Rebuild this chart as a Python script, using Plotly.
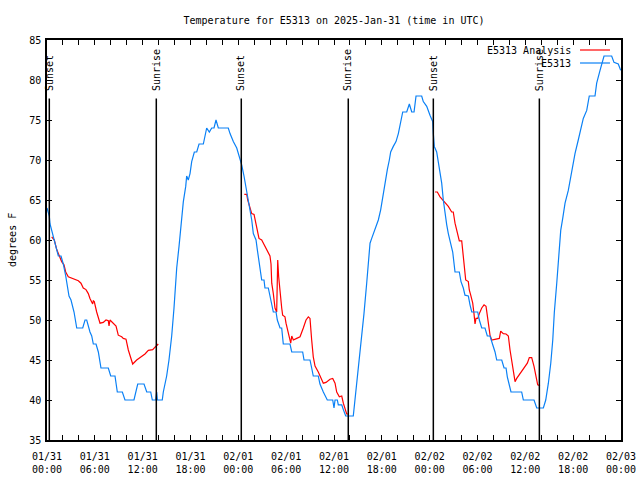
import pandas as pd
import plotly.graph_objects as go

# ---- data (hours since 2025-01-31 00:00 UTC, temperature in F) ----
obs_hours = [0.00, 0.29, 0.38, 0.92, 1.42, 1.76, 2.04, 2.35, 2.76, 3.01, 3.39, 3.73, 4.48, 4.77, 4.98,
             5.39, 5.61, 5.81, 6.15, 6.44, 6.77, 7.69, 7.99, 8.53, 8.82, 9.45, 9.78, 10.91, 11.38, 12.17,
             12.51, 13.01, 13.21, 13.64, 13.76, 13.84, 14.46, 14.59, 15.01, 15.30, 15.64, 15.93, 16.27,
             16.56, 16.68, 16.90, 17.10, 17.40, 17.52, 17.72, 17.94, 18.15, 18.48, 18.78, 19.07, 19.61,
             19.82, 20.03, 20.36, 20.66, 20.95, 21.20, 21.49, 22.74, 22.96, 23.37, 23.80, 24.12, 24.42,
             24.71, 25.05, 25.25, 25.46, 25.68, 25.88, 26.22, 26.38, 26.63, 26.93, 27.22, 27.34, 27.76,
             27.97, 28.19, 28.39, 28.73, 28.89, 29.23, 29.44, 29.64, 30.48, 30.70, 32.07, 32.24, 32.99,
             33.20, 33.40, 34.03, 34.24, 34.66, 35.16, 35.84, 36.00, 36.13, 36.42, 36.54, 36.97, 37.17,
             37.47, 38.42, 38.55, 38.85, 39.17, 39.47, 39.76, 40.10, 40.30, 40.52, 40.73, 40.93, 41.27,
             41.56, 41.86, 42.11, 42.40, 42.69, 42.94, 43.11, 43.44, 43.78, 44.07, 44.28, 44.62, 45.12,
             45.45, 45.75, 46.04, 46.29, 47.00, 47.20, 47.63, 48.04, 48.38, 48.46, 48.58, 48.88, 49.08,
             49.30, 49.51, 49.71, 49.92, 50.14, 50.34, 50.64, 50.89, 51.18, 51.72, 51.93, 52.22, 52.43,
             52.85, 53.06, 53.28, 54.03, 54.23, 54.53, 54.94, 55.23, 55.57, 55.91, 56.20, 56.41, 57.04,
             57.33, 57.58, 57.74, 57.99, 58.20, 59.54, 59.75, 61.09, 61.43, 62.26, 62.56, 62.89, 63.19,
             63.44, 63.64, 63.94, 64.14, 64.26, 64.44, 64.69, 64.98, 65.39, 65.69, 65.94, 66.23, 66.64,
             67.07, 67.27, 67.70, 68.02, 68.74, 68.95, 69.37, 69.58, 69.87, 70.83, 71.12, 71.66, 71.96]
obs_temp = [64, 63, 62, 60, 58, 58, 57, 55.5, 53, 52.5, 51, 49, 49, 50, 50,
            48.5, 48, 47, 47, 46, 44, 44, 43, 43, 41, 41, 40, 40, 42, 42,
            41, 41, 40, 40, 41, 40, 40, 41, 43, 45, 48, 51.5, 56.5,
            59.2, 60.6, 62.5, 64.8, 66.7, 68, 67.5, 68.3, 69.8, 71, 71, 72, 72,
            73, 74, 73.5, 74, 74, 75, 74, 74, 73.3, 72.3, 71.5, 70.4, 69.4,
            68, 66.2, 65, 63.8, 62.5, 60.8, 60, 58.8, 57.1, 55, 55, 54, 54,
            52.9, 52, 51, 51, 50, 49, 49, 47, 47, 46, 46, 45, 45,
            44, 43, 43, 42, 41, 40, 40, 39, 40, 40, 39.4, 39.4, 38.8,
            38, 38, 39.2, 42, 45.2, 47.3, 50.8, 54.6, 57.5, 59.6, 60.2, 60.8, 61.7,
            62.5, 63.8, 65.4, 67.5, 68.8, 70, 71, 71.7, 72.3, 73.3, 74.3, 76, 76,
            77, 76, 76, 78, 78, 77.3, 76.7, 75.6, 74.8, 73.3, 71.7, 71, 69.6,
            68.3, 67.1, 65, 63.3, 61.9, 60.8, 59.6, 58.5, 56, 56, 54.8, 54, 53.1,
            53, 51.9, 51, 51, 50, 49, 49, 48, 48, 46.9, 46, 45, 45,
            44, 44, 42.9, 41.9, 41, 41, 40, 40, 39, 39, 40, 42.1, 44.6,
            47.5, 51, 54.6, 57.5, 59.6, 61.2, 62.7, 64.6, 66.2, 67.9, 69.2, 70.8, 72.5,
            74.2, 75.2, 76.2, 78, 78, 79.6, 81.2, 82.1, 83, 83, 82.2, 82, 81.2]

ana1_hours = [0.59, 0.92, 1.22, 1.54, 1.84, 2.13, 2.35, 2.67, 3.30, 3.93, 4.26, 4.55, 4.89, 5.18, 5.39,
              5.61, 5.73, 5.81, 5.93, 6.23, 6.65, 7.06, 7.40, 7.69, 7.78, 7.90, 8.31, 8.66, 8.94, 9.37,
              9.57, 9.91, 10.20, 10.50, 10.75, 11.25, 11.88, 12.29, 12.71, 13.26, 13.55, 13.76, 13.96]
ana1_temp = [60.4, 60, 58.8, 57.9, 57.3, 56.9, 56, 55.4, 55.1, 54.9, 54.6, 54, 53.8, 53.3, 52.7,
             52.3, 52, 52.4, 52.3, 51, 49.6, 49.7, 50, 49.9, 49.25, 50, 49.6, 49.25, 48.1, 47.9,
             47.7, 47.6, 46.25, 45.4, 44.5, 45, 45.4, 45.75, 46.2, 46.3, 46.6, 46.75, 47]
ana2_hours = [24.75, 25.05, 25.18, 25.38, 25.68, 25.97, 26.18, 26.38, 26.59, 26.93, 27.35, 27.76, 27.97,
              28.10, 28.19, 28.39, 28.60, 28.81, 28.94, 29.06, 29.23, 29.44, 29.56, 29.85, 29.98, 30.19,
              30.39, 30.57, 30.70, 30.90, 31.32, 31.74, 32.15, 32.49, 32.78, 32.99, 33.20, 33.40, 33.62,
              34.03, 34.66, 35.00, 35.50, 35.84, 36.13, 36.34, 36.67, 36.97, 37.17, 37.38, 37.59, 37.79]
ana2_temp = [65.7, 65.7, 65, 64.4, 63.3, 63.2, 62.3, 61.25, 60.2, 60, 59.2, 58.5, 58,
             57, 54.6, 53.3, 51.5, 51, 57.5, 55.4, 53.3, 51.5, 50.6, 50.4, 49.6, 48.75,
             48.1, 47.1, 48, 47.5, 47.7, 47.9, 49, 50, 50.4, 50.2, 47.5, 45.4, 44.25,
             43.5, 42.1, 42.2, 42.6, 42.7, 42.1, 41, 40.4, 40.5, 39.6, 39, 38.25, 38.25]
ana3_hours = [48.67, 48.96, 49.30, 49.64, 49.92, 50.34, 50.76, 50.96, 51.18, 51.47, 51.72, 52.02, 52.14,
              52.31, 52.52, 52.85, 52.97, 53.15, 53.40, 53.56, 53.69, 53.81, 54.03, 54.23, 54.53, 54.82,
              55.07, 55.28, 55.57, 55.78, 56.32, 56.74, 56.91, 57.24, 57.58, 57.87, 58.08, 58.29, 58.49,
              58.71, 58.92, 59.33, 59.83, 60.25, 60.50, 60.80, 61.09, 61.34, 61.55, 61.84]
ana3_temp = [66, 66, 65.4, 65, 64.6, 64.2, 63.5, 63.5, 62.1, 60.8, 59.9, 59.9, 58.75,
             57.1, 55, 54.8, 53.75, 53.1, 52.1, 50.8, 49.5, 50.2, 50.2, 50.8, 51.5, 51.9,
             51.7, 50.2, 48.1, 47.5, 47.6, 47.7, 48.6, 48.3, 48.25, 48, 46.25, 44.8, 43.3,
             42.3, 42.7, 43.3, 44, 44.6, 45.3, 45.3, 44.2, 42.9, 41.9, 41.8]

sun_hours = [0.29, 13.71, 24.37, 37.79, 48.46, 61.76]
sun_labels = ["Sunset", "Sunrise", "Sunset", "Sunrise", "Sunset", "Sunrise"]

tick_hours = list(range(0, 73, 2))
title_text = "Temperature for E5313 on 2025-Jan-31 (time in UTC)"
station = "E5313"

# ---- build ----
base = pd.Timestamp("2025-01-31 00:00")
def to_time(hours):
    return [base + pd.Timedelta(hours=h) for h in hours]

ana_x, ana_y = [], []
for hh, tt in [(ana1_hours, ana1_temp), (ana2_hours, ana2_temp), (ana3_hours, ana3_temp)]:
    ana_x += to_time(hh) + [None]
    ana_y += tt + [None]

FONT = "DejaVu Sans Mono"
FS = 10
RED = "#ff0000"
BLUE = "#0a80f5"

fig = go.Figure()
fig.add_trace(go.Scatter(x=ana_x, y=ana_y, mode="lines", line=dict(color=RED, width=1.2),
                         name=station + " Analysis", showlegend=False, connectgaps=False))
fig.add_trace(go.Scatter(x=to_time(obs_hours), y=obs_temp, mode="lines",
                         line=dict(color=BLUE, width=1.2), name=station, showlegend=False))

for h, lab in zip(sun_hours, sun_labels):
    t = base + pd.Timedelta(hours=h)
    fig.add_shape(type="line", x0=t, x1=t, y0=35, y1=77.7, xref="x", yref="y",
                  line=dict(color="black", width=1.5))
    fig.add_annotation(x=t, y=78.4, xref="x", yref="y", text=lab, textangle=-90,
                       showarrow=False, xanchor="center", yanchor="bottom",
                       font=dict(family=FONT, size=FS, color="black"))

# manual gnuplot-style legend (text left of sample)
for i, (nm, col) in enumerate([(station + " Analysis", RED), (station, BLUE)]):
    yp = 0.975 - i * 0.0325
    fig.add_annotation(x=0.916, y=yp, xref="paper", yref="paper", text=nm, showarrow=False,
                       xanchor="right", yanchor="middle", font=dict(family=FONT, size=FS, color="black"))
    fig.add_shape(type="line", x0=0.9286, x1=0.9808, y0=yp, y1=yp, xref="paper", yref="paper",
                  line=dict(color=col, width=1.2))

fig.add_annotation(x=-0.061, y=0.5, xref="paper", yref="paper", text="degrees F", textangle=-90,
                   showarrow=False, xanchor="center", yanchor="middle",
                   font=dict(family=FONT, size=FS, color="black"))

tick_vals = to_time(tick_hours)
tick_text = []
for h, t in zip(tick_hours, tick_vals):
    tick_text.append(t.strftime("%m/%d") + "<br>" + t.strftime("%H:%M") if h % 6 == 0 else "")

fig.update_layout(
    width=640, height=480,
    margin=dict(l=47, r=19, t=40, b=40),
    paper_bgcolor="white", plot_bgcolor="white",
    font=dict(family=FONT, size=FS, color="black"),
    title=dict(text=title_text, x=0.5, xref="paper", y=1 - 20 / 480, yref="container",
               xanchor="center", yanchor="middle", font=dict(family=FONT, size=FS)),
    showlegend=False,
    xaxis=dict(type="date", range=[base, base + pd.Timedelta(hours=72)], automargin=False,
               tickvals=tick_vals, ticktext=tick_text, ticks="inside", ticklen=5,
               ticklabelstandoff=6,
               tickcolor="black", showline=True, linecolor="black", linewidth=1.5,
               mirror="ticks", showgrid=False, zeroline=False),
    yaxis=dict(range=[35, 85], tickvals=list(range(35, 86, 5)), ticks="inside", ticklen=5,
               automargin=False, ticklabelstandoff=2,
               tickcolor="black", showline=True, linecolor="black", linewidth=1.5,
               mirror="ticks", showgrid=False, zeroline=False),
)

fig.write_html("out.html")
